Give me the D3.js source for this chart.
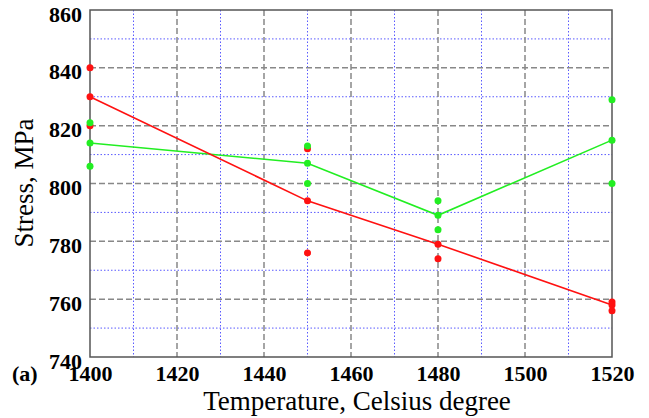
<!DOCTYPE html>
<html>
<head>
<meta charset="utf-8">
<script src="https://cdn.jsdelivr.net/npm/d3@7"></script>
<style>
  body { margin: 0; background: #fff; }
  svg { display: block; }
</style>
</head>
<body>
<div id="chart"></div>
<script>
// line (mean) values
var temps = [1400, 1450, 1480, 1520];
var redLine = [830, 794, 779, 758];
var greenLine = [814, 807, 789, 815];

// scattered measurements
var redPointsT = [1400, 1400, 1400, 1450, 1450, 1450, 1480, 1480, 1520, 1520, 1520];
var redPointsV = [840, 830, 820, 812, 794, 776, 779, 774, 759, 758, 756];
var greenPointsT = [1400, 1400, 1400, 1450, 1450, 1450, 1480, 1480, 1480, 1520, 1520, 1520];
var greenPointsV = [821, 814, 806, 813, 807, 800, 794, 789, 784, 829, 815, 800];

var xTicks = [1400, 1420, 1440, 1460, 1480, 1500, 1520];
var yTicks = [740, 760, 780, 800, 820, 840, 860];

var W = 649, H = 418;
var plotL = 90, plotR = 612, plotT = 10, plotB = 357;
var SERIF = "Liberation Serif";

var x = d3.scaleLinear().domain([1400, 1520]).range([plotL, plotR]);
var y = d3.scaleLinear().domain([740, 860]).range([plotB, plotT]);

var svg = d3.select("#chart").append("svg")
  .attr("width", W).attr("height", H);

// minor grid (blue dotted)
var minorX = d3.range(1410, 1520, 20), minorY = d3.range(750, 860, 20);
svg.append("g").selectAll("line").data(minorX).enter().append("line")
  .attr("x1", function(d) { return x(d); }).attr("x2", function(d) { return x(d); })
  .attr("y1", plotT).attr("y2", plotB)
  .attr("stroke", "#5a5aff").attr("stroke-width", 1).attr("stroke-dasharray", "1.5,2");
svg.append("g").selectAll("line").data(minorY).enter().append("line")
  .attr("y1", function(d) { return y(d); }).attr("y2", function(d) { return y(d); })
  .attr("x1", plotL).attr("x2", plotR)
  .attr("stroke", "#5a5aff").attr("stroke-width", 1).attr("stroke-dasharray", "1.5,2");

// major grid (grey dashed)
svg.append("g").selectAll("line").data(xTicks.slice(1, -1)).enter().append("line")
  .attr("x1", function(d) { return x(d); }).attr("x2", function(d) { return x(d); })
  .attr("y1", plotT).attr("y2", plotB)
  .attr("stroke", "#888").attr("stroke-width", 1.5).attr("stroke-dasharray", "6,3");
svg.append("g").selectAll("line").data(yTicks.slice(1, -1)).enter().append("line")
  .attr("y1", function(d) { return y(d); }).attr("y2", function(d) { return y(d); })
  .attr("x1", plotL).attr("x2", plotR)
  .attr("stroke", "#888").attr("stroke-width", 1.5).attr("stroke-dasharray", "6,3");

// frame
svg.append("rect")
  .attr("x", plotL).attr("y", plotT).attr("width", plotR - plotL).attr("height", plotB - plotT)
  .attr("fill", "none").attr("stroke", "#555").attr("stroke-width", 1.5);

// axes (labels only)
function styleTicks(g) {
  g.attr("font-family", SERIF).attr("font-size", 22).attr("font-weight", "bold");
  g.select(".domain").remove();
  g.selectAll(".tick text").attr("fill", "#000");
}
svg.append("g").attr("transform", "translate(0," + plotB + ")")
  .call(d3.axisBottom(x).tickValues(xTicks).tickSize(0).tickPadding(8).tickFormat(d3.format("d")))
  .call(styleTicks);
svg.append("g").attr("transform", "translate(" + plotL + ",0)")
  .call(d3.axisLeft(y).tickValues(yTicks).tickSize(0).tickPadding(8).tickFormat(d3.format("d")))
  .call(styleTicks)
  .call(function(g) { g.selectAll(".tick text").attr("dy", "0.5em"); });

// lines
var line = d3.line()
  .x(function(d) { return x(d[0]); })
  .y(function(d) { return y(d[1]); });

svg.append("path").datum(d3.zip(temps, greenLine))
  .attr("d", line).attr("fill", "none").attr("stroke", "#22ee22").attr("stroke-width", 1.6);
svg.append("path").datum(d3.zip(temps, redLine))
  .attr("d", line).attr("fill", "none").attr("stroke", "#ff1111").attr("stroke-width", 1.6);

// points
svg.append("g").selectAll("circle").data(d3.zip(redPointsT, redPointsV)).enter().append("circle")
  .attr("cx", function(d) { return x(d[0]); }).attr("cy", function(d) { return y(d[1]); })
  .attr("r", 3.5).attr("fill", "#ff1111");
svg.append("g").selectAll("circle").data(d3.zip(greenPointsT, greenPointsV)).enter().append("circle")
  .attr("cx", function(d) { return x(d[0]); }).attr("cy", function(d) { return y(d[1]); })
  .attr("r", 3.5).attr("fill", "#22ee22");

// titles
svg.append("text")
  .attr("x", 357).attr("y", 410)
  .attr("text-anchor", "middle")
  .attr("font-family", SERIF)
  .attr("font-size", 27)
  .text("Temperature, Celsius degree");

svg.append("text")
  .attr("transform", "translate(33,183) rotate(-90)")
  .attr("text-anchor", "middle")
  .attr("font-family", SERIF)
  .attr("font-size", 27)
  .text("Stress, MPa");

svg.append("text")
  .attr("x", 12).attr("y", 381)
  .attr("font-family", SERIF)
  .attr("font-size", 22)
  .attr("font-weight", "bold")
  .text("(a)");
</script>
</body>
</html>
